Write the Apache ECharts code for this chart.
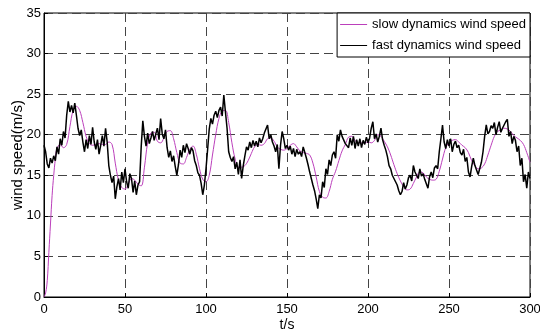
<!DOCTYPE html>
<html>
<head>
<meta charset="utf-8">
<script src="https://cdn.jsdelivr.net/npm/echarts@6/dist/echarts.min.js"></script>
<style>
  html, body { margin: 0; padding: 0; background: #fff; }
  #chart { width: 540px; height: 331px; }
</style>
</head>
<body>
<div id="chart"></div>
<script>
// slow dynamics wind speed
const slowT = [0, 1, 2, 3, 4, 5, 6, 7, 8, 10, 12, 14, 16, 18, 20, 22, 24, 26, 28, 30,
  32, 34, 36, 38, 40, 42, 44, 46, 48, 50, 52, 54, 56, 58, 60, 62, 64, 66, 68, 70,
  72, 74, 76, 78, 80, 82, 84, 86, 88, 90, 92, 94, 96, 98, 100, 102, 104, 106, 108, 110,
  112, 114, 116, 118, 120, 122, 124, 126, 128, 130, 132, 134, 136, 138, 140, 142, 144, 146, 148, 150,
  152, 154, 156, 158, 160, 162, 164, 166, 168, 170, 172, 174, 176, 178, 180, 182, 184, 186, 188, 190,
  192, 194, 196, 198, 200, 202, 204, 206, 208, 210, 212, 214, 216, 218, 220, 222, 224, 226, 228, 230,
  232, 234, 236, 238, 240, 242, 244, 246, 248, 250, 252, 254, 256, 258, 260, 262, 264, 266, 268, 270,
  272, 274, 276, 278, 280, 282, 284, 286, 288, 290, 292, 294, 296, 298, 300]
const slowV = [0, 0.5, 2, 5.5, 9, 12.5, 15, 17, 18.3, 18.8, 18.4, 18.8, 21, 23, 23.5, 23, 21.5, 19.8, 18.9, 18.7,
  18.8, 18.9, 18.8, 18.8, 19.1, 18.8, 16.5, 14.4, 13.5, 13.3, 13.9, 14.6, 14.4, 13.9, 13.7, 16, 19, 20.2, 20.3, 19.2,
  19, 19.6, 20.4, 20.5, 19.5, 17.8, 16.5, 16.4, 17.2, 18.2, 18.6, 17.6, 15.8, 14.5, 14.2, 15, 17.5, 20, 22, 22.9,
  23, 21.5, 19, 17, 16, 16, 16.2, 16.8, 17.7, 18.5, 18.8, 18.7, 18.9, 19.5, 19.6, 19.2, 18.5, 18.2, 18.1, 18.3,
  18.7, 18.9, 18.5, 18, 17.8, 17.7, 17.5, 16.5, 14.8, 13, 12.3, 12.2, 13, 14.5, 15.5, 16.8, 18, 18.8, 19.7, 19.8,
  19.3, 19, 19, 19, 19.1, 19, 19.3, 20, 19.8, 19.2, 18.5, 17.5, 16.3, 15.2, 14.3, 13.6, 13.2, 13.3, 14, 14.8,
  15.4, 15.3, 14.8, 14.5, 14.4, 14.5, 15.5, 17, 18.4, 19, 19.3, 19.4, 19.1, 18.7, 18.4, 17.8, 16.8, 16.2, 15.8, 15.9,
  16.4, 17.5, 18.7, 19.8, 20.4, 20.6, 20.8, 20.7, 20.4, 19.9, 19.6, 19.3, 18.8, 17.8, 16.6]

// fast dynamics wind speed, one value per second from t = 0 to 300
const fastV = [
  18.7, 17.9, 16.4, 15.9, 17.1, 16.5, 17.4, 16.8, 18.5, 17.6,
  19.5, 18.7, 20.4, 19.6, 22.4, 24.1, 22.8, 23.6, 22.7, 23.9,
  22.4, 20.8, 19.9, 20.6, 19.1, 17.9, 19.4, 18.3, 19.9, 18.8,
  20.9, 19.1, 18.2, 19.4, 17.6, 18.7, 19.9, 18.6, 20.8, 19.1,
  16.2, 15, 14.1, 14.9, 12.1, 13.6, 14.6, 13.2, 15.4, 14.1,
  15.8, 14.2, 13.4, 15.2, 14.6, 12.9, 14.3, 12.6, 13.8, 14.2,
  18.5, 21.7, 19.8, 18.6, 20.2, 18.9, 19.6, 20.4, 19.3, 20.1,
  20.8, 19.4, 22, 20.1, 19.5, 20.6, 18.4, 17.2, 18, 16.7,
  17.4, 16.1, 15, 16.3, 18.1, 17.2, 18.7, 17.8, 18.9, 18.3,
  17.6, 18.4, 18, 16.8, 16.2, 15.3, 15, 14, 12.6, 13.8,
  15.8, 18.2, 20.7, 22, 21.3, 22.4, 22.9, 22.1, 23, 23.4,
  22.3, 24.9, 22.8, 20.8, 17.9, 17.2, 16.7, 17.3, 15.8, 16.6,
  15.1, 16.9, 14.6, 16.2, 17.4, 18.5, 18.1, 19.1, 18.4, 19.3,
  18.6, 19.2, 18.5, 19.6, 19, 19.5, 20.2, 20.4, 21.2, 19.5,
  20, 19.1, 18.6, 17.9, 18.8, 15.8, 18.7, 20.4, 19.5, 18.3,
  18.7, 18.1, 18.6, 17.6, 18.3, 17.3, 18.2, 17.6, 17.9, 17.3,
  18.5, 17.8, 17.1, 16.3, 15.4, 14.6, 13.8, 13.1, 12.1, 10.9,
  12.6, 12.2, 14.2, 13.5, 15.8, 15.1, 16.9, 16.2, 17.5, 17.9,
  17.1, 20, 19.2, 20.6, 19.8, 20, 18.9, 19.1, 18.4, 19.6,
  18.7, 19.8, 18.3, 19.4, 18.6, 19.5, 18.4, 19.3, 18.8, 19.7,
  19, 19.6, 20.8, 21.6, 19.5, 20.1, 19.1, 19.8, 20.8, 19.4,
  18.7, 18.1, 17.3, 16.2, 15.8, 15, 14.6, 14.2, 13.8, 13.1,
  12.6, 13, 14.1, 13.3, 13.8, 14.7, 15, 14.3, 16.2, 15.4,
  15, 14.6, 15.8, 14.9, 15.2, 14.5, 14.4, 13.4, 14.8, 15.4,
  14.7, 15.9, 16.2, 15.8, 17.9, 19.5, 21.2, 19.1, 18.3, 19.4,
  18.6, 19.5, 17.9, 18.8, 19.2, 18.4, 18.7, 17.8, 17.5, 18.2,
  16.7, 17.2, 15.4, 14.8, 16.1, 17.1, 16.2, 16, 15.1, 15.2,
  16.6, 17.9, 19.8, 21.2, 20.1, 20.4, 21.1, 20.8, 21.5, 20,
  20.9, 21.6, 20.3, 20.8, 21.2, 21.6, 21.9, 19.8, 20.4, 18.9,
  19.8, 19.3, 17.9, 18.6, 16.2, 17.1, 14.2, 15.1, 13.4, 15.4,
  14.6
]

const xTicks = { min: 0, max: 300, step: 50 }
const yTicks = { min: 0, max: 35, step: 5 }

const chart = echarts.init(document.getElementById('chart'))

const font = 'Liberation Sans, Arial, sans-serif'
const gridLine = { show: true, lineStyle: { color: '#444', type: [9, 5], width: 1 } }

chart.setOption({
  animation: false,
  textStyle: { fontFamily: font },
  grid: {
    left: 44, right: 10, top: 13, bottom: 34,
    outerBoundsMode: 'none',
    show: true, borderColor: '#000', borderWidth: 1
  },
  legend: {
    orient: 'vertical',
    right: 10,
    top: 13,
    backgroundColor: '#fff',
    borderColor: '#000',
    borderWidth: 1,
    borderRadius: 0,
    padding: [4, 4, 4, 3],
    icon: 'rect',
    itemWidth: 27,
    itemHeight: 1,
    itemGap: 6,
    textStyle: { fontSize: 13, color: '#000', fontFamily: font, lineHeight: 15 },
    data: ['slow dynamics wind speed', 'fast dynamics wind speed']
  },
  xAxis: {
    type: 'value',
    min: xTicks.min,
    max: xTicks.max,
    interval: xTicks.step,
    name: 't/s',
    nameLocation: 'middle',
    nameGap: 21,
    nameMoveOverlap: false,
    nameTextStyle: { fontSize: 14, color: '#000' },
    axisLine: { show: true, lineStyle: { color: '#000' } },
    axisTick: { show: true, inside: true, length: 4, lineStyle: { color: '#000' } },
    axisLabel: { fontSize: 13, color: '#000', margin: 6 },
    splitLine: gridLine
  },
  yAxis: {
    type: 'value',
    min: yTicks.min,
    max: yTicks.max,
    interval: yTicks.step,
    name: 'wind speed(m/s)',
    nameLocation: 'middle',
    nameGap: 19,
    nameMoveOverlap: false,
    nameTextStyle: { fontSize: 15, color: '#000' },
    axisLine: { show: true, lineStyle: { color: '#000' } },
    axisTick: { show: true, inside: true, length: 4, lineStyle: { color: '#000' } },
    axisLabel: { fontSize: 13, color: '#000', margin: 3 },
    splitLine: gridLine
  },
  series: [
    {
      name: 'slow dynamics wind speed',
      type: 'line',
      data: slowT.map((t, i) => [t, slowV[i]]),
      smooth: 0.4,
      symbol: 'none',
      lineStyle: { color: '#bb3fbb', width: 1 },
      itemStyle: { color: '#bb3fbb' }
    },
    {
      name: 'fast dynamics wind speed',
      type: 'line',
      data: fastV.map((v, i) => [i, v]),
      symbol: 'none',
      lineStyle: { color: '#000', width: 1.5 },
      itemStyle: { color: '#000' }
    }
  ]
})
</script>
</body>
</html>
